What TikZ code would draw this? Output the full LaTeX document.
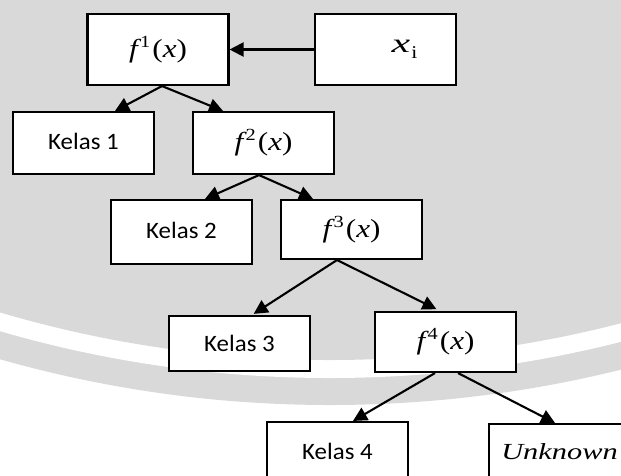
\documentclass[tikz,border=0pt]{standalone}
\usepackage{fontspec}
\setmainfont{Carlito}[FakeStretch=1.06]
\newfontfamily\mathface{Liberation Serif}[FakeStretch=1.2]
\newfontfamily\wideface{Liberation Serif}[FakeStretch=1.55]
\usetikzlibrary{arrows.meta}
\definecolor{wmgray}{RGB}{217,217,217}

% f^n(x) in a Cambria-Math-like serif
\newcommand\fnx[1]{{\fontsize{26}{30}\selectfont\mathface\itshape f}\kern2.5pt%
  \raisebox{10pt}{\fontsize{17}{17}\selectfont\mathface #1}\kern2pt%
  {\fontsize{26}{30}\selectfont\mathface (\itshape x\/\upshape)}}

\begin{document}
\begin{tikzpicture}[x=1pt,y=-1pt,
  box/.style={draw=black,line width=2.1pt,fill=white,minimum width=141pt,
    inner sep=0pt,font=\fontsize{23.5}{27}\selectfont},
  link/.style={line width=2.1pt,-{Triangle[length=14pt,width=14pt]}}]
\useasboundingbox (0,0) rectangle (621,475);

% watermark background: grey disc with a light ring near its rim
\begin{scope}
  \clip (0,0) rectangle (621,475);
  \fill[white] (0,0) rectangle (621,475);
  \fill[wmgray] (330,-800) circle[radius=1205pt];
  \fill[white] (330,-800) circle[radius=1178pt];
  \fill[wmgray] (330,-800) circle[radius=1160pt];
\end{scope}

% nodes
\node[box,minimum height=71pt] (f1) at (158,49.5) {\raisebox{3pt}{\fnx{1}}};
\node[box,minimum height=71pt] (xi) at (385.5,49.5)
  {\hspace*{38pt}\raisebox{3pt}{{\fontsize{27}{30}\selectfont\wideface\itshape x}\kern1pt\raisebox{-6pt}{\fontsize{18}{18}\selectfont\mathface i}}};
\node[box,minimum height=62pt] (k1) at (83.5,143) {\raisebox{4pt}{Kelas 1}};
\node[box,minimum height=62pt] (f2) at (263.5,143) {\fnx{2}};
\node[box,minimum height=64pt] (k2) at (181.5,232) {\raisebox{2.5pt}{Kelas 2}};
\node[box,minimum height=59pt] (f3) at (351.5,229.5) {\fnx{3}};
\node[box,minimum height=55pt] (k3) at (239.5,343.5) {Kelas 3};
\node[box,minimum height=60pt] (f4) at (445.5,342) {\fnx{4}};
\node[box,minimum height=58pt] (k4) at (337.5,451) {Kelas 4};
\node[box,minimum height=56pt] (unk) at (559.5,452)
  {\scalebox{1.1}[1]{\fontsize{23}{27}\selectfont\mathface\itshape Unknown}};

% connectors
\draw[link] (xi.west) -- (f1.east);
\draw[link] ([xshift=4pt]f1.south) -- ([xshift=31.5pt]k1.north);
\draw[link] ([xshift=4pt]f1.south) -- ([xshift=-40.5pt]f2.north);
\draw[link] ([xshift=-4.5pt]f2.south) -- ([xshift=23.5pt]k2.north);
\draw[link] ([xshift=-4.5pt]f2.south) -- ([xshift=-38.5pt]f3.north);
\draw[link,shorten >=2pt] ([xshift=-14.5pt]f3.south) -- ([xshift=12.5pt]k3.north);
\draw[link,shorten >=4pt] ([xshift=-14.5pt]f3.south) -- ([xshift=-5.5pt]f4.north);
\draw[link] ([xshift=-10.5pt]f4.south) -- ([xshift=15.5pt]k4.north);
\draw[link] ([xshift=12.5pt]f4.south) -- ([xshift=-4.5pt]unk.north);
\end{tikzpicture}
\end{document}
